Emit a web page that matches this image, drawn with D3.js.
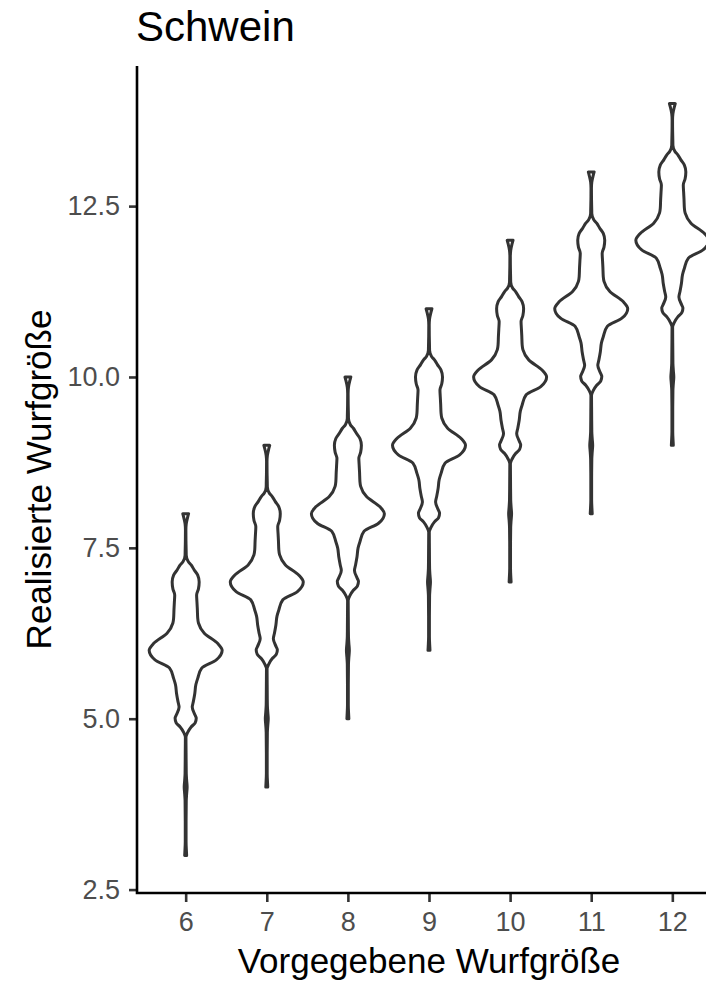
<!DOCTYPE html>
<html>
<head>
<meta charset="utf-8">
<script src="https://cdn.jsdelivr.net/npm/d3@7"></script>
<style>
    body { margin: 0; background: #fff; }
    svg { display: block; font-family: "Liberation Sans", Arial, sans-serif; }
</style>
</head>
<body>
<div id="chart"></div>
<script>
var width = 706, height = 984;

// categories (predicted litter size) and y ticks
var predicted = [6, 7, 8, 9, 10, 11, 12];
var yTicks = [2.5, 5.0, 7.5, 10.0, 12.5];

// violin outline: offset from the predicted size -> relative density
// (all seven violins look the same)
var profileOffset = [-3.0, -2.95, -2.8, -2.5, -2.2, -2.1, -2.0, -1.9, -1.8, -1.5, -1.27, -1.2, -1.12, -1.06, -0.99, -0.95, -0.83, -0.75, -0.63, -0.5, -0.41, -0.26, -0.14, 0,
    0.1, 0.25, 0.4, 0.47, 0.6, 0.7, 0.81, 0.9, 1.0, 1.1, 1.18, 1.25, 1.3, 1.39, 1.45, 1.6, 1.76, 1.85, 1.95, 2.0];
var profileDensity = [0.027, 0.022, 0.011, 0.011, 0.016, 0.027, 0.04, 0.027, 0.016, 0.011, 0.008, 0.055, 0.15, 0.26, 0.29, 0.26, 0.18, 0.21, 0.25, 0.28, 0.33, 0.44, 0.84, 1.0,
    0.88, 0.51, 0.35, 0.33, 0.32, 0.31, 0.30, 0.35, 0.37, 0.33, 0.23, 0.15, 0.07, 0.016, 0.014, 0.008, 0.006, 0.016, 0.055, 0.08];

var margin = {top: 66, left: 137, bottom: 91, right: -15};

var svg = d3.select("#chart").append("svg")
    .attr("width", width)
    .attr("height", height);

var x = d3.scalePoint()
    .domain(predicted)
    .range([margin.left, width - margin.right])
    .padding(0.6);

var y = d3.scaleLinear()
    .domain([2.45, 14.55])
    .range([height - margin.bottom, margin.top]);

var w = d3.scaleLinear()
    .domain([0, 1])
    .range([0, x.step() * 0.45]);

var profile = profileOffset.map(function (o, i) {
    return {off: o, dens: profileDensity[i]};
});

// violins
var violins = svg.append("g");
predicted.forEach(function (p) {
    var area = d3.area()
        .y(function (d) { return y(p + d.off); })
        .x0(function (d) { return x(p) - w(d.dens); })
        .x1(function (d) { return x(p) + w(d.dens); })
        .curve(d3.curveMonotoneY);
    violins.append("path")
        .attr("d", area(profile))
        .attr("fill", "#fff")
        .attr("stroke", "#333333")
        .attr("stroke-width", 3)
        .attr("stroke-linejoin", "round");
});

// x axis
var xAxis = svg.append("g")
    .attr("transform", "translate(0," + (height - margin.bottom) + ")")
    .call(d3.axisBottom(x).tickSize(9).tickSizeOuter(0).tickPadding(6));
xAxis.select(".domain").remove();
xAxis.selectAll("line").attr("stroke", "#333333").attr("stroke-width", 2.6);
xAxis.selectAll("text")
    .attr("y", 38)
    .attr("dy", null)
    .style("font-size", "27px")
    .style("font-family", "Liberation Sans, Arial, sans-serif")
    .attr("fill", "#4d4d4d");

// y axis
var yAxis = svg.append("g")
    .attr("transform", "translate(" + margin.left + ",0)")
    .call(d3.axisLeft(y).tickValues(yTicks).tickFormat(d3.format(".1f")).tickSize(8).tickPadding(9));
yAxis.select(".domain").remove();
yAxis.selectAll("line").attr("stroke", "#333333").attr("stroke-width", 2.6);
yAxis.selectAll("text")
    .style("font-size", "27px")
    .style("font-family", "Liberation Sans, Arial, sans-serif")
    .attr("fill", "#4d4d4d");

// axis lines
svg.append("path")
    .attr("d", "M" + margin.left + "," + margin.top + "V" + (height - margin.bottom) + "H" + (width + 20))
    .attr("fill", "none")
    .attr("stroke", "#000")
    .attr("stroke-width", 2.6);

// titles
svg.append("text")
    .attr("x", 136)
    .attr("y", 41)
    .text("Schwein")
    .style("font-size", "42px")
    .attr("fill", "#000");

svg.append("text")
    .attr("x", (margin.left + width - margin.right) / 2)
    .attr("y", 973)
    .attr("text-anchor", "middle")
    .text("Vorgegebene Wurfgröße")
    .style("font-size", "35px")
    .attr("fill", "#000");

svg.append("text")
    .attr("transform", "rotate(-90)")
    .attr("x", -(margin.top + height - margin.bottom) / 2)
    .attr("y", 51)
    .attr("text-anchor", "middle")
    .text("Realisierte Wurfgröße")
    .style("font-size", "35px")
    .attr("fill", "#000");
</script>
</body>
</html>
